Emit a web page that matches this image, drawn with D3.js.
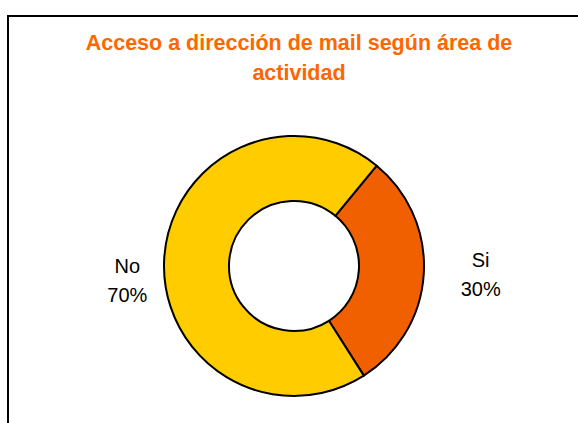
<!DOCTYPE html>
<html>
<head>
<meta charset="utf-8">
<script src="https://cdn.jsdelivr.net/npm/d3@7"></script>
<style>
  body { margin: 0; background: #fff; }
  text { font-family: "Liberation Sans", Arial, sans-serif; }
</style>
</head>
<body>
<div id="chart"></div>
<script>
// data
var categories = ["Si", "No"],
    values = [30, 70],
    colors = ["#F06000", "#FFCC00"];

var titleLines = ["Acceso a dirección de mail según área de", "actividad"];

var width = 578,
    height = 423;

var svg = d3.select("#chart")
  .append("svg")
    .attr("width", width)
    .attr("height", height);

// chart frame (runs off right and bottom)
svg.append("rect")
    .attr("x", 8)
    .attr("y", 16)
    .attr("width", 600)
    .attr("height", 450)
    .attr("fill", "white")
    .attr("stroke", "black")
    .attr("stroke-width", 2);

// title, clipped on the right like the original
svg.append("clipPath")
    .attr("id", "titleclip")
  .append("rect")
    .attr("x", 0).attr("y", 0)
    .attr("width", 512).attr("height", 100);

svg.append("g")
    .attr("clip-path", "url(#titleclip)")
  .selectAll("text")
  .data(titleLines)
  .enter().append("text")
    .attr("x", 299)
    .attr("y", function(d, i) { return 50 + i * 30; })
    .attr("text-anchor", "middle")
    .attr("fill", "#FF6600")
    .style("font-size", "21.5px")
    .style("font-weight", "bold")
    .text(function(d) { return d; });

// donut
var cx = 294, cy = 266,
    outerR = 130, innerR = 65;

var pie = d3.pie()
    .sort(null)
    .startAngle(39.5 * Math.PI / 180)
    .endAngle(39.5 * Math.PI / 180 + 2 * Math.PI);

var arc = d3.arc()
    .innerRadius(innerR)
    .outerRadius(outerR);

var g = svg.append("g")
    .attr("transform", "translate(" + cx + "," + cy + ")");

var arcs = pie(values);

g.selectAll("path")
  .data(arcs)
  .enter().append("path")
    .attr("d", arc)
    .attr("fill", function(d, i) { return colors[i]; })
    .attr("stroke", "black")
    .attr("stroke-width", 2)
    .attr("stroke-linejoin", "round");

// labels outside the ring
var labelArc = d3.arc()
    .innerRadius(177)
    .outerRadius(177);

var lab = g.selectAll("g.lab")
  .data(arcs)
  .enter().append("g")
    .attr("class", "lab")
    .attr("transform", function(d) {
      var c = labelArc.centroid(d);
      return "translate(" + (c[0] + 10) + ",0)";
    });

lab.append("text")
    .attr("text-anchor", "middle")
    .attr("y", function(d, i) { return i === 0 ? 1 : 7; })
    .style("font-size", "20px")
    .text(function(d, i) { return categories[i]; });

lab.append("text")
    .attr("text-anchor", "middle")
    .attr("y", function(d, i) { return i === 0 ? 30 : 36; })
    .style("font-size", "20px")
    .text(function(d, i) { return values[i] + "%"; });
</script>
</body>
</html>
